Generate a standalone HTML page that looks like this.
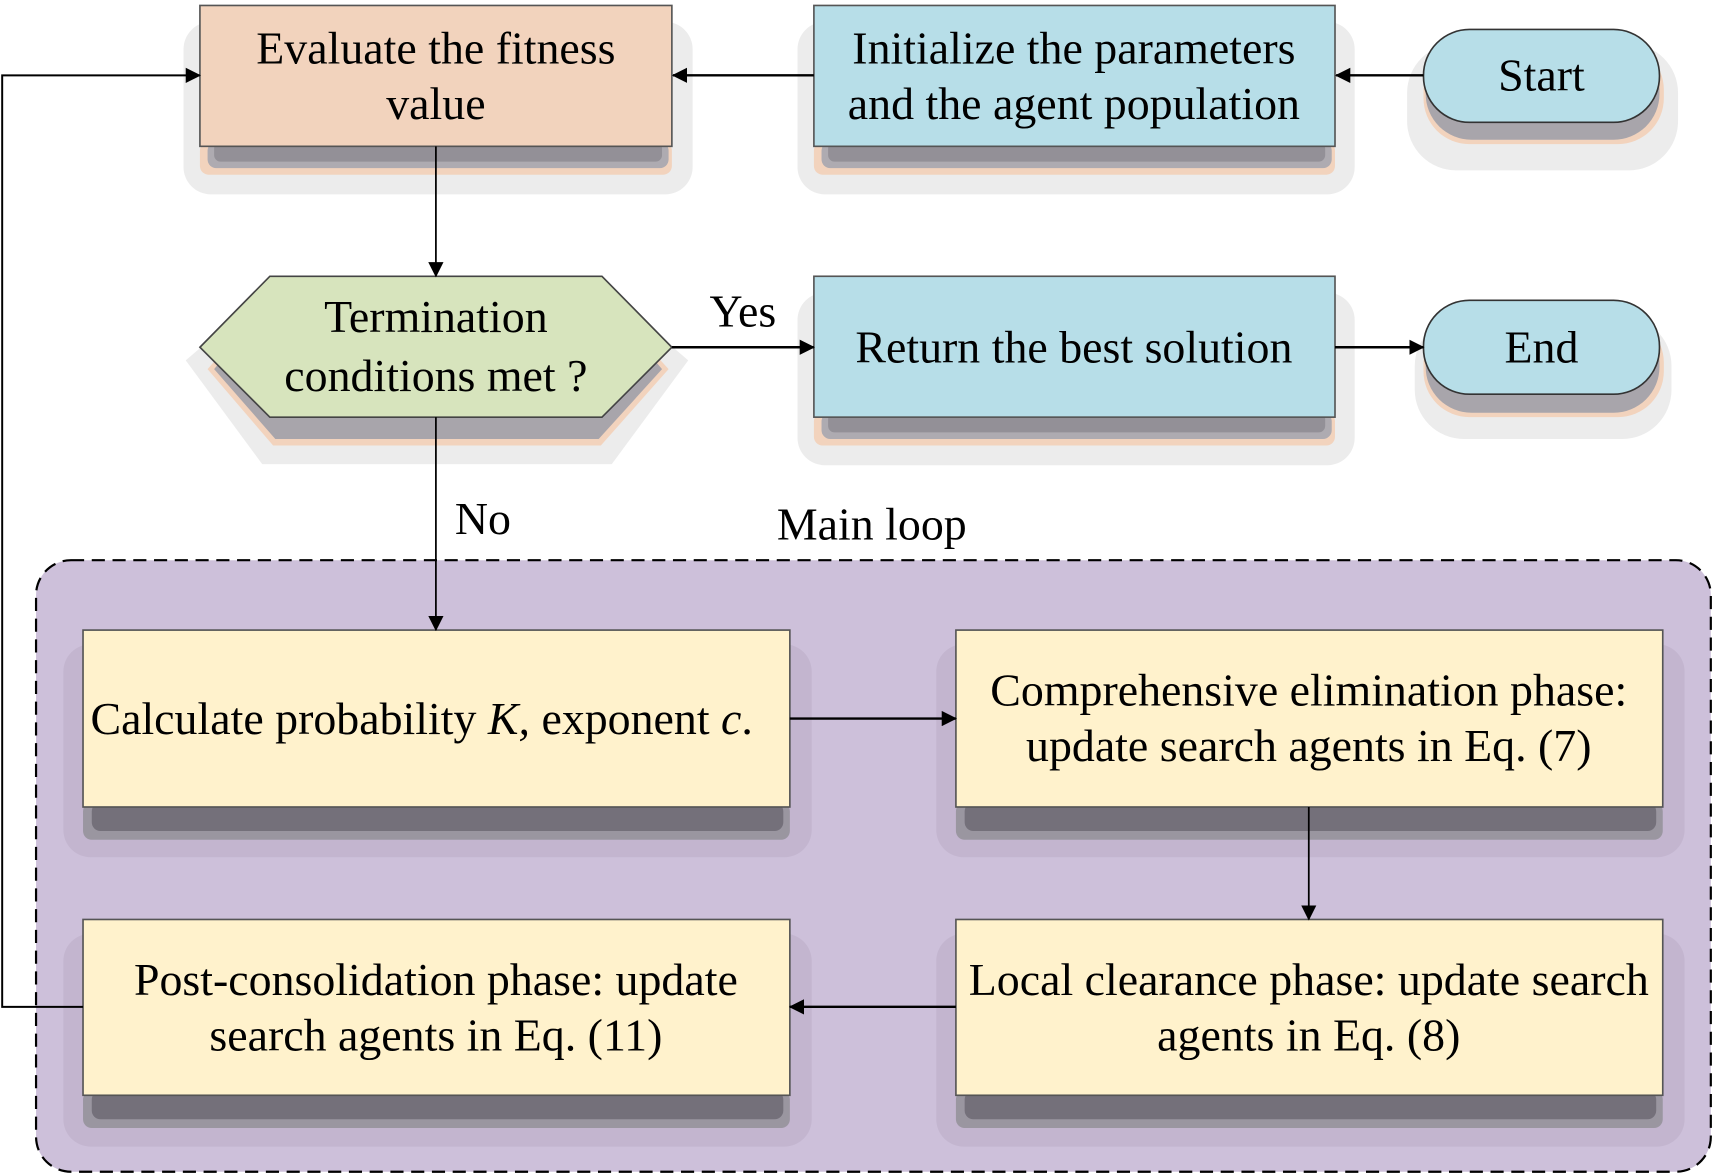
<!DOCTYPE html>
<html><head><meta charset="utf-8"><style>
html,body{margin:0;padding:0;background:#fff;}
svg{display:block;}
text{font-family:"Liberation Serif",serif;font-size:42px;fill:#000;}
</style></head><body>
<svg width="1713" height="1175" viewBox="0 0 1568 1076" preserveAspectRatio="none" xmlns="http://www.w3.org/2000/svg">
<defs>
<marker id="a" markerWidth="14" markerHeight="14" refX="13" refY="7" orient="auto" markerUnits="userSpaceOnUse" viewBox="0 0 14 14">
<path d="M0,0 L14,7 L0,14 z" fill="#000"/></marker>
</defs>
<g>
<rect x="168" y="20" width="466" height="158" rx="25" fill="#ececec"/>
<rect x="730" y="20" width="510" height="158" rx="25" fill="#ececec"/>
<rect x="1288" y="40" width="248" height="116" rx="45" fill="#ececec"/>
<rect x="183" y="130" width="432" height="30" rx="8" fill="#f2d3bd"/>
<rect x="190" y="130" width="422" height="24" rx="8" fill="#aeabb1"/>
<rect x="196" y="130" width="410" height="18" rx="6" fill="#939097"/>
<rect x="745" y="130" width="477" height="30" rx="8" fill="#f2d3bd"/>
<rect x="752" y="130" width="467" height="24" rx="8" fill="#aeabb1"/>
<rect x="758" y="130" width="455" height="18" rx="6" fill="#939097"/>
<rect x="1303" y="40" width="220" height="92" rx="42" fill="#f2d3bd"/>
<rect x="1305" y="40" width="214" height="88" rx="42" fill="#a8a5ab"/>

<polygon points="170,330 240,270 560,270 630,330 560,425 240,425" fill="#ececec"/>
<rect x="730" y="268" width="510" height="158" rx="25" fill="#ececec"/>
<rect x="1295" y="290" width="235" height="112" rx="45" fill="#ececec"/>
<polygon points="190,338 250,270 550,270 612,338 550,408 250,408" fill="#f2d3bd"/>
<polygon points="196,338 252,270 548,270 606,338 548,402 252,402" fill="#a8a5ab"/>
<rect x="745" y="378" width="477" height="30" rx="8" fill="#f2d3bd"/>
<rect x="752" y="378" width="467" height="24" rx="8" fill="#aeabb1"/>
<rect x="758" y="378" width="455" height="18" rx="6" fill="#939097"/>
<rect x="1303" y="290" width="220" height="92" rx="42" fill="#f2d3bd"/>
<rect x="1305" y="290" width="214" height="88" rx="42" fill="#a8a5ab"/>
</g>
<rect x="33" y="513" width="1533" height="560" rx="32" fill="#cdc0da" stroke="#000" stroke-width="2" stroke-dasharray="12,7"/>
<g>
<rect x="58" y="590" width="685" height="195" rx="25" fill="#c3b5cf"/>
<rect x="857" y="590" width="685" height="195" rx="25" fill="#c3b5cf"/>
<rect x="58" y="855" width="685" height="195" rx="25" fill="#c3b5cf"/>
<rect x="857" y="855" width="685" height="195" rx="25" fill="#c3b5cf"/>
<rect x="76" y="735" width="647" height="34" rx="8" fill="#9a96a0"/>
<rect x="84" y="735" width="633" height="26" rx="8" fill="#74707a"/>
<rect x="875" y="735" width="647" height="34" rx="8" fill="#9a96a0"/>
<rect x="883" y="735" width="633" height="26" rx="8" fill="#74707a"/>
<rect x="76" y="999" width="647" height="34" rx="8" fill="#9a96a0"/>
<rect x="84" y="999" width="633" height="26" rx="8" fill="#74707a"/>
<rect x="875" y="999" width="647" height="34" rx="8" fill="#9a96a0"/>
<rect x="883" y="999" width="633" height="26" rx="8" fill="#74707a"/>
</g>
<rect x="183" y="5" width="432" height="129" fill="#f2d3bd" stroke="#555" stroke-width="1.5"/>
<rect x="745" y="5" width="477" height="129" fill="#b7dee8" stroke="#555" stroke-width="1.5"/>
<rect x="1303" y="27" width="216" height="85" rx="42" fill="#b7dee8" stroke="#333" stroke-width="1.5"/>
<polygon points="183,318 247,253 551,253 615,318 551,382 247,382" fill="#d7e4bd" stroke="#444" stroke-width="1.5"/>
<rect x="745" y="253" width="477" height="129" fill="#b7dee8" stroke="#555" stroke-width="1.5"/>
<rect x="1303" y="275" width="216" height="86" rx="42" fill="#b7dee8" stroke="#333" stroke-width="1.5"/>
<rect x="76" y="577" width="647" height="162" fill="#fff2cc" stroke="#555" stroke-width="1.5"/>
<rect x="875" y="577" width="647" height="162" fill="#fff2cc" stroke="#555" stroke-width="1.5"/>
<rect x="875" y="842" width="647" height="161" fill="#fff2cc" stroke="#555" stroke-width="1.5"/>
<rect x="76" y="842" width="647" height="161" fill="#fff2cc" stroke="#555" stroke-width="1.5"/>
<g stroke="#000" stroke-width="2.2" fill="none">
<line x1="745" y1="69" x2="616" y2="69" marker-end="url(#a)"/>
<line x1="1303" y1="69" x2="1223" y2="69" marker-end="url(#a)"/>
<line x1="399" y1="134" x2="399" y2="253" marker-end="url(#a)" stroke-width="1.6"/>
<line x1="615" y1="318" x2="745" y2="318" marker-end="url(#a)"/>
<line x1="1222" y1="318" x2="1303" y2="318" marker-end="url(#a)"/>
<line x1="399" y1="382" x2="399" y2="577" marker-end="url(#a)" stroke-width="1.6"/>
<line x1="723" y1="658" x2="875" y2="658" marker-end="url(#a)"/>
<line x1="1198" y1="739" x2="1198" y2="842" marker-end="url(#a)" stroke-width="1.6"/>
<line x1="875" y1="922" x2="723" y2="922" marker-end="url(#a)"/>
<polyline points="76,922 2,922 2,69 183,69" marker-end="url(#a)" stroke-width="1.8"/>
</g>
<g text-anchor="middle">
<text x="399" y="58">Evaluate the fitness</text>
<text x="399" y="109">value</text>
<text x="983" y="58">Initialize the parameters</text>
<text x="983" y="109">and the agent population</text>
<text x="1411" y="83">Start</text>
<text x="399" y="304">Termination</text>
<text x="399" y="358">conditions met ?</text>
<text x="983" y="332">Return the best solution</text>
<text x="1411" y="332">End</text>
<text x="680" y="299">Yes</text>
<text x="442" y="489">No</text>
<text x="798" y="494">Main loop</text>
<text x="386" y="672">Calculate probability <tspan font-style="italic">K,</tspan> exponent <tspan font-style="italic">c</tspan>.</text>
<text x="1198" y="646">Comprehensive elimination phase:</text>
<text x="1198" y="697">update search agents in Eq. (7)</text>
<text x="1198" y="911">Local clearance phase: update search</text>
<text x="1198" y="962">agents in Eq. (8)</text>
<text x="399" y="911">Post-consolidation phase: update</text>
<text x="399" y="962">search agents in Eq. (11)</text>
</g>
</svg>
</body></html>
